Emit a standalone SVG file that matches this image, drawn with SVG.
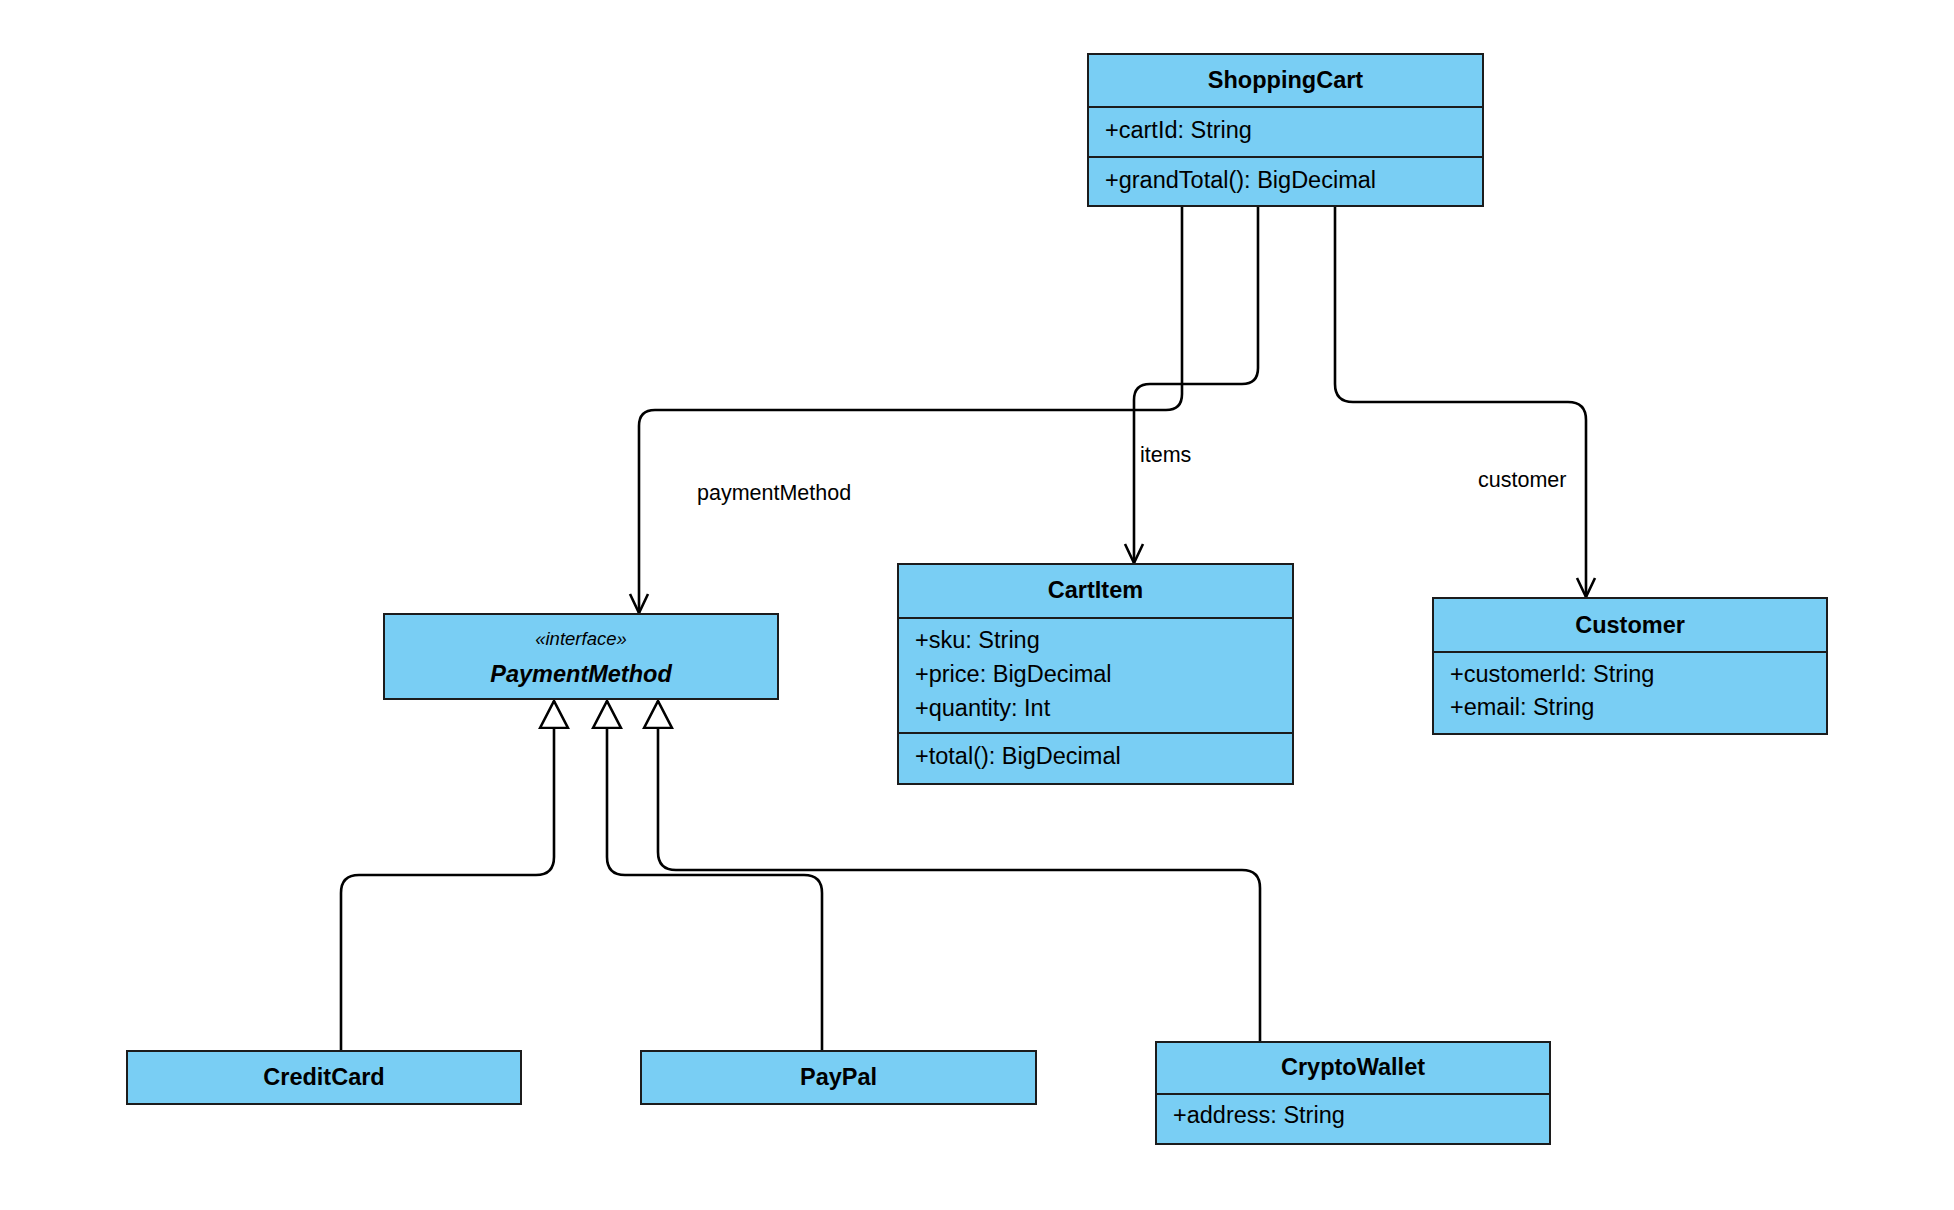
<svg xmlns="http://www.w3.org/2000/svg" width="1954" height="1210" viewBox="0 0 1954 1210">
<defs>
<style>
.box{fill:#79CEF4;stroke:#1c1c1c;stroke-width:2}
.div{stroke:#1c1c1c;stroke-width:2}
.title{font-family:"Liberation Sans",Arial,Helvetica,sans-serif;font-weight:bold;font-size:23.5px;text-anchor:middle;fill:#000}
.attr{font-family:"Liberation Sans",Arial,Helvetica,sans-serif;font-size:23.5px;fill:#000}
.stereo{font-family:"Liberation Sans",Arial,Helvetica,sans-serif;font-style:italic;font-size:18.5px;text-anchor:middle;fill:#000}
.lbl{font-family:"Liberation Sans",Arial,Helvetica,sans-serif;font-size:21.5px;fill:#000}
.edge{fill:none;stroke:#000;stroke-width:2.6}
</style>
<marker id="open" viewBox="0 0 22 22" refX="20" refY="11" markerWidth="22" markerHeight="22" markerUnits="userSpaceOnUse" orient="auto">
<path d="M1,2 L20,11 L1,20" fill="none" stroke="#000" stroke-width="2.6"/>
</marker>
<marker id="tri" viewBox="0 0 30 32" refX="28" refY="16" markerWidth="30" markerHeight="32" markerUnits="userSpaceOnUse" orient="auto-start-reverse">
<path d="M1,2 L28,16 L1,30 Z" fill="#fff" stroke="#000" stroke-width="2.6"/>
</marker>
</defs>
<rect width="1954" height="1210" fill="#fff"/>

<g id="connectors">
<path class="edge" d="M1182,206 V394 Q1182,410 1166,410 H655 Q639,410 639,426 V613" marker-end="url(#open)"/>
<path class="edge" d="M1258,206 V368 Q1258,384 1242,384 H1150 Q1134,384 1134,400 V563" marker-end="url(#open)"/>
<path class="edge" d="M1335,206 V384 Q1335,402 1353,402 H1568 Q1586,402 1586,420 V597" marker-end="url(#open)"/>
<path class="edge" d="M554,701 V857 Q554,875 536,875 H359 Q341,875 341,893 V1051" marker-start="url(#tri)"/>
<path class="edge" d="M607,701 V857 Q607,875 625,875 H804 Q822,875 822,893 V1051" marker-start="url(#tri)"/>
<path class="edge" d="M658,701 V852 Q658,870 676,870 H1242 Q1260,870 1260,888 V1042" marker-start="url(#tri)"/>
<text class="lbl" x="697" y="500">paymentMethod</text>
<text class="lbl" x="1140" y="462">items</text>
<text class="lbl" x="1478" y="487">customer</text>
</g>

<g id="ShoppingCart">
<rect class="box" x="1088" y="54" width="395" height="152"/>
<line class="div" x1="1088" y1="107" x2="1483" y2="107"/>
<line class="div" x1="1088" y1="157" x2="1483" y2="157"/>
<text class="title" x="1285.5" y="88">ShoppingCart</text>
<text class="attr" x="1105" y="138">+cartId: String</text>
<text class="attr" x="1105" y="188">+grandTotal(): BigDecimal</text>
</g>

<g id="PaymentMethod">
<rect class="box" x="384" y="614" width="394" height="85"/>
<text class="stereo" x="581" y="645">«interface»</text>
<text class="title" x="581" y="682" font-style="italic">PaymentMethod</text>
</g>

<g id="CartItem">
<rect class="box" x="898" y="564" width="395" height="220"/>
<line class="div" x1="898" y1="618" x2="1293" y2="618"/>
<line class="div" x1="898" y1="733" x2="1293" y2="733"/>
<text class="title" x="1095.5" y="598">CartItem</text>
<text class="attr" x="915" y="648">+sku: String</text>
<text class="attr" x="915" y="682">+price: BigDecimal</text>
<text class="attr" x="915" y="716">+quantity: Int</text>
<text class="attr" x="915" y="764">+total(): BigDecimal</text>
</g>

<g id="Customer">
<rect class="box" x="1433" y="598" width="394" height="136"/>
<line class="div" x1="1433" y1="652" x2="1827" y2="652"/>
<text class="title" x="1630" y="633">Customer</text>
<text class="attr" x="1450" y="682">+customerId: String</text>
<text class="attr" x="1450" y="715">+email: String</text>
</g>

<g id="CreditCard">
<rect class="box" x="127" y="1051" width="394" height="53"/>
<text class="title" x="324" y="1085">CreditCard</text>
</g>

<g id="PayPal">
<rect class="box" x="641" y="1051" width="395" height="53"/>
<text class="title" x="838.5" y="1085">PayPal</text>
</g>

<g id="CryptoWallet">
<rect class="box" x="1156" y="1042" width="394" height="102"/>
<line class="div" x1="1156" y1="1094" x2="1550" y2="1094"/>
<text class="title" x="1353" y="1075">CryptoWallet</text>
<text class="attr" x="1173" y="1123">+address: String</text>
</g>
</svg>
